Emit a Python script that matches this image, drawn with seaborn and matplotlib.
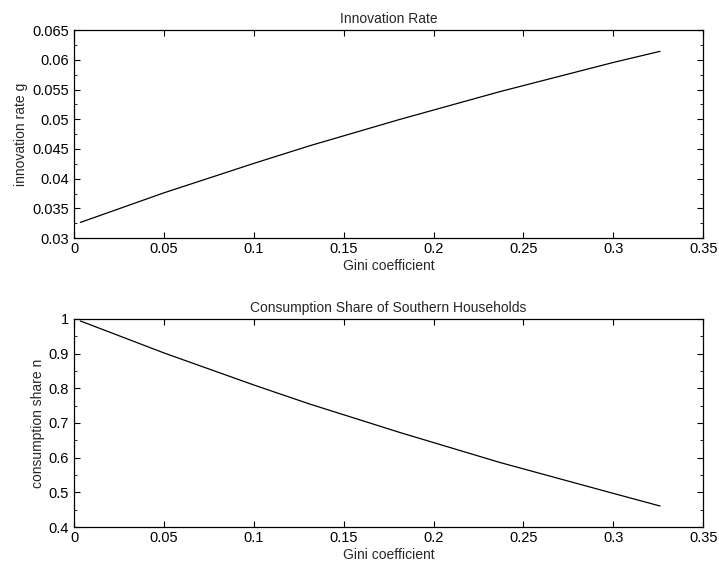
import matplotlib
matplotlib.use("Agg")
import matplotlib.pyplot as plt
from matplotlib.ticker import MultipleLocator
import seaborn as sns
import pandas as pd

gini = [0.0035, 0.05, 0.10, 0.131, 0.181, 0.237, 0.30, 0.326]
innovation = [0.03264, 0.03762, 0.04257, 0.04553, 0.04995, 0.05465, 0.05955, 0.06142]
consumption = [0.9942, 0.902, 0.8096, 0.7548, 0.673, 0.586, 0.497, 0.4606]

x_ticks = [0, 0.05, 0.1, 0.15, 0.2, 0.25, 0.3, 0.35]
x_labels = ["0", "0.05", "0.1", "0.15", "0.2", "0.25", "0.3", "0.35"]
g_ticks = [0.03, 0.035, 0.04, 0.045, 0.05, 0.055, 0.06, 0.065]
g_labels = ["0.03", "0.035", "0.04", "0.045", "0.05", "0.055", "0.06", "0.065"]
n_ticks = [0.4, 0.5, 0.6, 0.7, 0.8, 0.9, 1.0]
n_labels = ["0.4", "0.5", "0.6", "0.7", "0.8", "0.9", "1"]

sns.set_style("ticks")
plt.rcParams['font.family'] = ['Liberation Sans', 'DejaVu Sans']
plt.rcParams['font.size'] = 10
plt.rcParams['xtick.direction'] = 'in'
plt.rcParams['ytick.direction'] = 'in'

df = pd.DataFrame({"gini": gini, "g": innovation, "n": consumption})

fig = plt.figure(figsize=(7.19, 5.67), dpi=100)
ax1 = fig.add_axes([0.103, 0.580, 0.875, 0.367])
ax2 = fig.add_axes([0.103, 0.0705, 0.875, 0.367])

sns.lineplot(data=df, x="gini", y="g", ax=ax1, color="black", linewidth=0.9)
sns.lineplot(data=df, x="gini", y="n", ax=ax2, color="black", linewidth=0.9)

ax1.set_xlim(0, 0.35)
ax1.set_ylim(0.03, 0.065)
ax1.set_xticks(x_ticks)
ax1.set_xticklabels(x_labels)
ax1.set_yticks(g_ticks)
ax1.set_yticklabels(g_labels)
ax1.yaxis.set_minor_locator(MultipleLocator(0.0025))
ax1.set_title("Innovation Rate", fontsize=10, pad=5)
ax1.set_xlabel("Gini coefficient", labelpad=2)
ax1.set_ylabel("innovation rate g", labelpad=3)

ax2.set_xlim(0, 0.35)
ax2.set_ylim(0.4, 1.0)
ax2.set_xticks(x_ticks)
ax2.set_xticklabels(x_labels)
ax2.set_yticks(n_ticks)
ax2.set_yticklabels(n_labels)
ax2.yaxis.set_minor_locator(MultipleLocator(0.05))
ax2.set_title("Consumption Share of Southern Households", fontsize=10, pad=5)
ax2.set_xlabel("Gini coefficient", labelpad=2)
ax2.set_ylabel("consumption share n", labelpad=3)

for ax in (ax1, ax2):
    for s in ax.spines.values():
        s.set_visible(True)
        s.set_linewidth(0.9)
        s.set_color("black")
    ax.tick_params(which="both", top=True, right=True, direction="in", colors="black", labelsize=10.5)
    ax.tick_params(which="major", length=4, width=0.8)
    ax.tick_params(which="minor", length=2, width=0.6, top=False, bottom=False)
    ax.tick_params(axis="x", pad=3)

fig.savefig("out.png", dpi=100)
